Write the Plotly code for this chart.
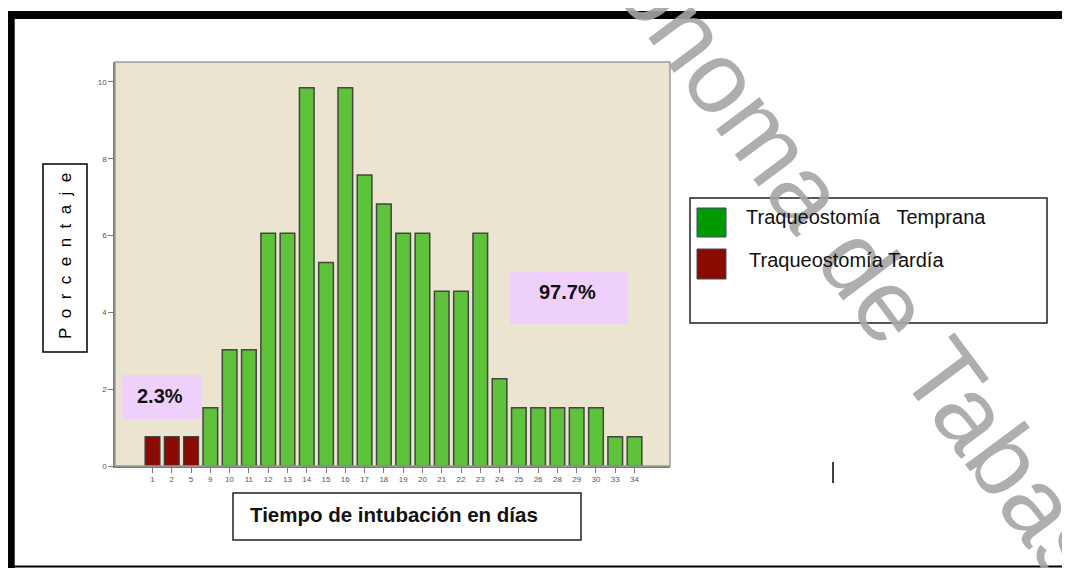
import plotly.graph_objects as go

# Tiempo de intubación (días) y porcentaje de pacientes
dias_tardia = ["1", "2", "5"]
pct_tardia = [0.76, 0.76, 0.76]

dias_temprana = ["9", "10", "11", "12", "13", "14", "15", "16", "17", "18", "19",
                 "20", "21", "22", "23", "24", "25", "26", "28", "29", "30", "33", "34"]
pct_temprana = [1.52, 3.03, 3.03, 6.06, 6.06, 9.85, 5.30, 9.85, 7.58, 6.82, 6.06,
                6.06, 4.55, 4.55, 6.06, 2.27, 1.52, 1.52, 1.52, 1.52, 1.52, 0.76, 0.76]

y_ticks = [0, 2, 4, 6, 8, 10]
etiqueta_tardia = "2.3%"
etiqueta_temprana = "97.7%"

FONT = "Arial, Liberation Sans, sans-serif"

# page offset of the figure (body margin) and plot area, in page pixels
OFF = 8
W, H = 1070 - OFF, 568 - OFF
L, R, T, B = 115, 670, 62, 466


def fx(x):
    return (x - L) / (R - L)


def fy(y):
    return (B - y) / (B - T)


fig = go.Figure()

fig.add_trace(go.Bar(
    x=dias_tardia, y=pct_tardia, name="Traqueostomía Tardía",
    marker=dict(color="#8B0A02", line=dict(color="rgba(55,55,55,0.9)", width=1.5)),
    width=0.76, showlegend=False, hoverinfo="skip"
))
fig.add_trace(go.Bar(
    x=dias_temprana, y=pct_temprana, name="Traqueostomía Temprana",
    marker=dict(color="#5EC23A", line=dict(color="rgba(55,55,55,0.9)", width=1.5)),
    width=0.76, showlegend=False, hoverinfo="skip"
))


def rect(x0, x1, y0, y1, **kw):
    return dict(type="rect", xref="paper", yref="paper",
                x0=fx(x0), x1=fx(x1), y0=fy(y0), y1=fy(y1), **kw)


def line(x0, x1, y0, y1, color, width):
    return dict(type="line", xref="paper", yref="paper",
                x0=fx(x0), x1=fx(x1), y0=fy(y0), y1=fy(y1),
                line=dict(color=color, width=width))


shapes = [
    # plot frame
    dict(type="rect", xref="paper", yref="paper", x0=0, x1=1, y0=0, y1=1,
         line=dict(color="#9A9A9A", width=1.5), layer="above"),
    # page frame
    line(7, 1080, 15, 15, "black", 8),
    line(10.7, 10.7, 11, 575, "black", 8),
    line(7, 1080, 566.5, 566.5, "black", 2),
    # label boxes
    rect(122, 202, 375, 419, fillcolor="#EFD0FB", line=dict(width=0), layer="above"),
    rect(510, 628, 272, 324, fillcolor="#EFD0FB", line=dict(width=0), layer="above"),
    rect(43, 87, 164, 352, line=dict(color="black", width=1.5)),
    rect(233, 581, 493, 540, line=dict(color="#222222", width=1.5)),
    # legend
    rect(690, 1047, 198, 323, line=dict(color="#222222", width=1.5)),
    rect(697, 726, 208, 237, fillcolor="#009900", line=dict(color="#3B4A6B", width=1)),
    rect(697, 726, 249, 279, fillcolor="#8B0A00", line=dict(color="#3B4A6B", width=1)),
    # stray mark
    line(833, 833, 462, 483, "black", 1.5),
]


def label(text, x, y, size, xanchor="center", angle=0, color="#111111"):
    return dict(text=text, xref="paper", yref="paper", x=fx(x), y=fy(y),
                xanchor=xanchor, yanchor="middle", showarrow=False, textangle=angle,
                font=dict(family=FONT, size=size, color=color))


annotations = [
    label("Universidad Juárez Autónoma de Tabasco", 582, -110, 102,
          angle=53.4, color="rgba(165,165,165,0.9)"),
    label("<b>" + etiqueta_tardia + "</b>", 160, 396, 20),
    label("<b>" + etiqueta_temprana + "</b>", 567, 292, 20),
    label("\u00a0\u00a0".join("Porcentaje"), 65, 256, 17, angle=-90, color="black"),
    label("<b>Tiempo de intubación en días</b>", 248, 514, 20.5, xanchor="left"),
    label("Traqueostomía\u00a0\u00a0\u00a0Temprana", 744, 217, 20, xanchor="left"),
    label("Traqueostomía Tardía", 747, 260, 20, xanchor="left"),
]

fig.update_layout(
    width=W, height=H, autosize=False,
    margin=dict(l=L - OFF, r=W - (R - OFF), t=T - OFF, b=H - (B - OFF), pad=0),
    paper_bgcolor="white", plot_bgcolor="#EAE4D0",
    shapes=shapes, annotations=annotations,
    showlegend=False,
    font=dict(family=FONT),
)
fig.update_xaxes(
    type="category", categoryorder="array", categoryarray=dias_tardia + dias_temprana,
    range=[-1.945, 26.84], showgrid=False, zeroline=False,
    showline=True, linecolor="#7A7A7A", linewidth=1.5,
    ticks="outside", ticklen=5, tickcolor="#7A7A7A", tickwidth=1,
    tickfont=dict(size=8, color="#555555"),
)
fig.update_yaxes(
    range=[0, 10.52], tickvals=y_ticks, showgrid=False, zeroline=False,
    showline=True, linecolor="#7A7A7A", linewidth=1.5,
    ticks="outside", ticklen=5, tickcolor="#7A7A7A", tickwidth=1,
    tickfont=dict(size=8, color="#555555"),
)

fig.write_html("out.html")
